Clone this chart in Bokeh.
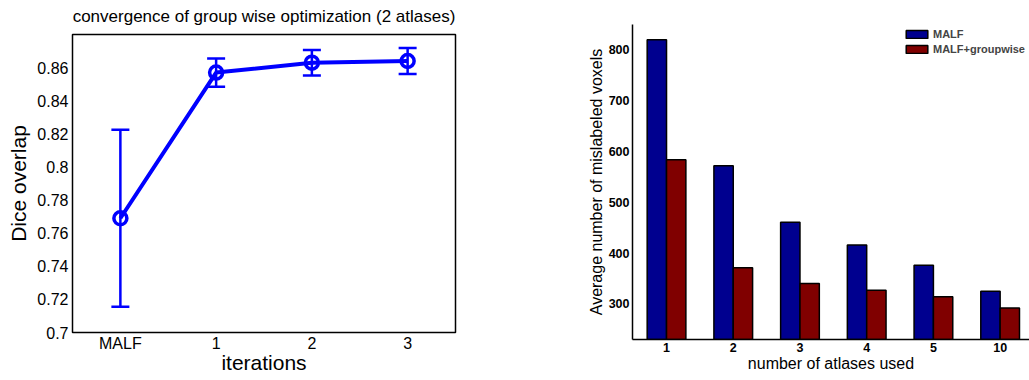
from bokeh.plotting import figure
from bokeh.layouts import row
from bokeh.models import (ColumnDataSource, Whisker, TeeHead, FixedTicker, Range1d,
                          Legend, LegendItem)
from bokeh.transform import dodge
from bokeh.embed import file_html
from bokeh.resources import INLINE

# ---------------- data ----------------
title_text = "convergence of group wise optimization (2 atlases)"
iter_labels = ["MALF", "1", "2", "3"]
dice_mean = [0.769, 0.857, 0.863, 0.864]
dice_err = [0.0535, 0.0085, 0.0077, 0.0078]
dice_ticks = [0.7, 0.72, 0.74, 0.76, 0.78, 0.8, 0.82, 0.84, 0.86]

atlas_labels = ["1", "2", "3", "4", "5", "10"]
malf_vals = [820, 572, 461, 416, 376, 325]
group_vals = [584, 371, 340, 327, 314, 292]
vox_ticks = [300, 400, 500, 600, 700, 800]

FONT = "Liberation Sans"
BLUE = "#0000FF"

# ---------------- left chart ----------------
xs = list(range(len(iter_labels)))
src = ColumnDataSource(dict(
    x=xs, y=dice_mean,
    upper=[m + e for m, e in zip(dice_mean, dice_err)],
    lower=[m - e for m, e in zip(dice_mean, dice_err)],
))

p1 = figure(width=480, height=380, output_backend="svg", toolbar_location=None,
            x_range=Range1d(-0.5, 3.5), y_range=Range1d(0.7, 0.88),
            min_border_left=72, min_border_right=25, min_border_top=33,
            min_border_bottom=48, title=title_text)
p1.frame_align = False
p1.title.text_font = FONT
p1.title.text_font_size = "17px"
p1.title.text_font_style = "normal"
p1.title.align = "center"
p1.title.vertical_align = "top"
p1.title.text_color = "black"
p1.title.standoff = 13

p1.line("x", "y", source=src, line_color=BLUE, line_width=4)
w = Whisker(source=src, base="x", upper="upper", lower="lower",
            line_color=BLUE, line_width=2.5,
            upper_head=TeeHead(size=18, line_color=BLUE, line_width=2.5),
            lower_head=TeeHead(size=18, line_color=BLUE, line_width=2.5))
p1.add_layout(w)
p1.scatter("x", "y", source=src, marker="circle", size=13, fill_color=None,
           line_color=BLUE, line_width=3.5)

p1.xaxis.ticker = FixedTicker(ticks=xs)
p1.xaxis.major_label_overrides = {i: l for i, l in zip(xs, iter_labels)}
p1.yaxis.ticker = FixedTicker(ticks=dice_ticks)
p1.yaxis.major_label_overrides = {t: ("%g" % t) for t in dice_ticks}
p1.xaxis.axis_label = "iterations"
p1.yaxis.axis_label = "Dice overlap"
for ax in (p1.xaxis, p1.yaxis):
    ax.axis_label_text_font = FONT
    ax.axis_label_text_font_size = "21px"
    ax.axis_label_text_font_style = "normal"
    ax.axis_label_text_color = "black"
    ax.major_label_text_font = FONT
    ax.major_label_text_font_size = "16px"
    ax.major_label_text_color = "black"
    ax.major_tick_line_color = None
    ax.minor_tick_line_color = None
    ax.major_tick_out = 0
    ax.major_tick_in = 0
    ax.minor_tick_out = 0
    ax.axis_line_color = None
    ax.axis_label_standoff = 0
p1.xaxis.major_label_standoff = 2
p1.xaxis.axis_label_standoff = -4
p1.yaxis.major_label_standoff = 4
p1.yaxis.axis_label_standoff = 4
p1.xgrid.visible = False
p1.ygrid.visible = False
p1.outline_line_color = "black"
p1.outline_line_width = 1.5
p1.outline_line_alpha = 1

# ---------------- right chart ----------------
ax_x = list(range(1, len(atlas_labels) + 1))
src2 = ColumnDataSource(dict(x=ax_x, malf=malf_vals, group=group_vals))

p2 = figure(width=549, height=380, output_backend="svg", toolbar_location=None,
            x_range=Range1d(0.49, 6.44), y_range=Range1d(230, 850),
            min_border_left=152, min_border_right=0, min_border_top=24,
            min_border_bottom=41)
p2.frame_align = False
r1 = p2.vbar(x=dodge("x", -0.145, range=p2.x_range), top="malf", bottom=230,
             width=0.29, source=src2, fill_color="#00008F", line_color="black",
             line_width=1.5)
r2 = p2.vbar(x=dodge("x", 0.145, range=p2.x_range), top="group", bottom=230,
             width=0.29, source=src2, fill_color="#800000", line_color="black",
             line_width=1.5)

p2.xaxis.ticker = FixedTicker(ticks=ax_x)
p2.xaxis.major_label_overrides = {i: l for i, l in zip(ax_x, atlas_labels)}
p2.yaxis.ticker = FixedTicker(ticks=vox_ticks)
p2.xaxis.axis_label = "number of atlases used"
p2.yaxis.axis_label = "Average number of mislabeled voxels"
for ax in (p2.xaxis, p2.yaxis):
    ax.axis_label_text_font = FONT
    ax.axis_label_text_font_size = "16px"
    ax.axis_label_text_font_style = "normal"
    ax.axis_label_text_color = "black"
    ax.major_label_text_font = FONT
    ax.major_label_text_font_size = "12.5px"
    ax.major_label_text_font_style = "bold"
    ax.major_label_text_color = "black"
    ax.major_tick_line_color = None
    ax.minor_tick_line_color = None
    ax.major_tick_out = 0
    ax.major_tick_in = 0
    ax.minor_tick_out = 0
    ax.axis_line_color = "black"
    ax.axis_line_width = 1.5
    ax.major_label_standoff = 3
    ax.axis_label_standoff = 0
p2.yaxis.axis_label_standoff = 1
p2.xgrid.visible = False
p2.ygrid.visible = False
p2.outline_line_color = None

legend = Legend(items=[LegendItem(label="MALF", renderers=[r1]),
                       LegendItem(label="MALF+groupwise", renderers=[r2])],
                location="top_right", margin=4, padding=2, spacing=3,
                glyph_width=27, glyph_height=10, label_standoff=3,
                label_text_font=FONT, label_text_font_size="11px",
                label_text_font_style="bold", label_height=10,
                border_line_color=None, background_fill_alpha=0)
p2.add_layout(legend)

layout = row(p1, p2)
open("out.html", "w").write(file_html(layout, INLINE))
